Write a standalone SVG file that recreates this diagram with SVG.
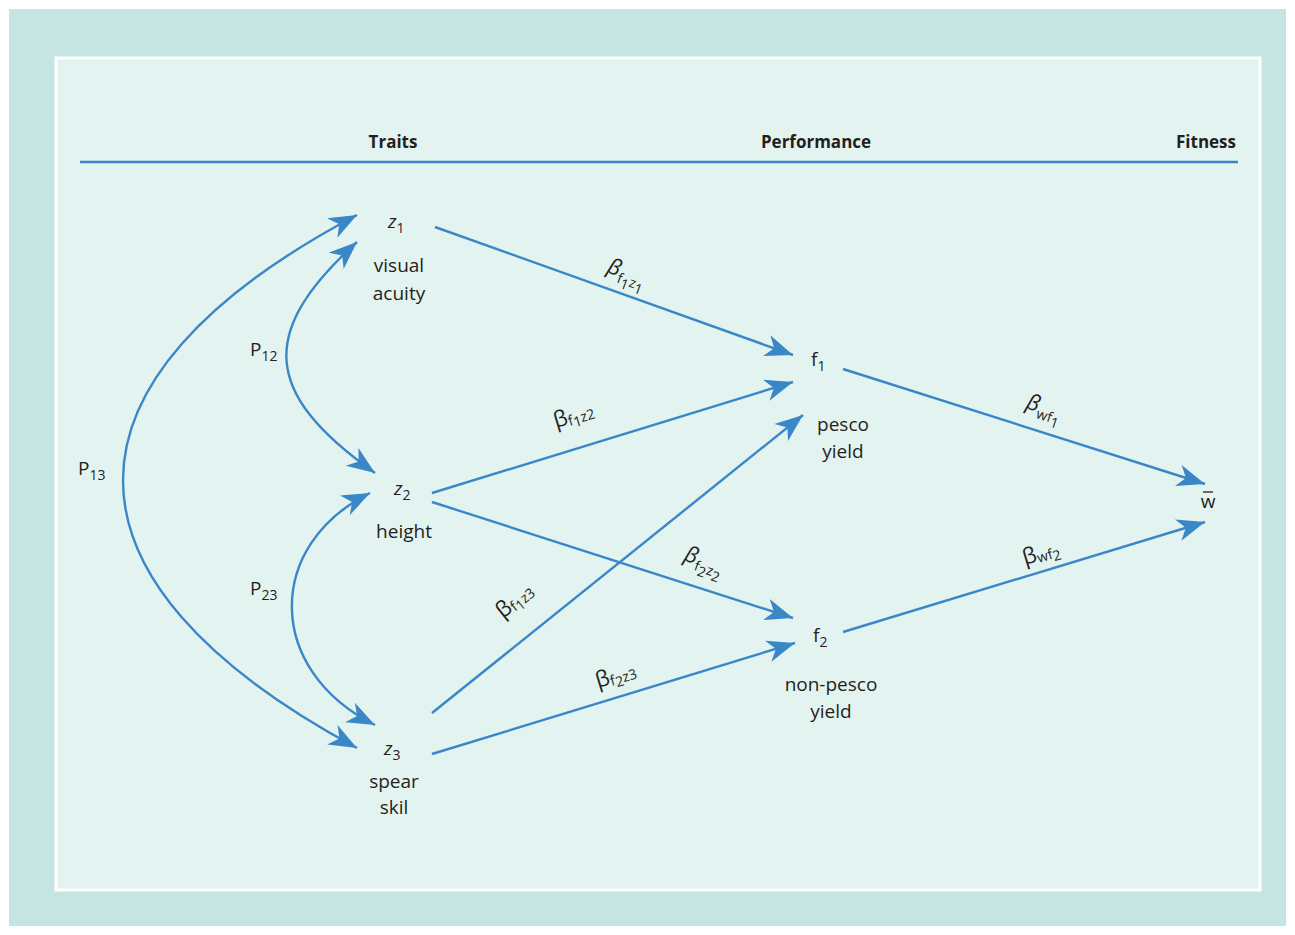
<svg xmlns="http://www.w3.org/2000/svg" width="1295" height="935" viewBox="0 0 1295 935">
<defs>
<style>
.t{font-family:"Open Sans","Noto Sans","Liberation Sans",sans-serif;font-size:19px;fill:#231f20}
.h{font-weight:bold;font-size:17px}
.s{font-size:14px}
.b{font-size:22px}
.c{fill:none;stroke:#3a87c8;stroke-width:2.4;marker-end:url(#ah)}
.d{marker-start:url(#ah)}
</style>
<marker id="ah" markerUnits="userSpaceOnUse" markerWidth="30" markerHeight="24" refX="28" refY="12" orient="auto-start-reverse" viewBox="0 0 30 24">
<path d="M0,1 L28,12 L0,23 L8,12 Z" fill="#3a87c8"/>
</marker>
</defs>
<rect x="0" y="0" width="1295" height="935" fill="#ffffff"/>
<rect x="9" y="9" width="1277" height="917" fill="#c5e5e3"/>
<rect x="56" y="58" width="1204" height="832" fill="#e3f3f0" stroke="#ffffff" stroke-width="3"/>
<g id="header">
<text class="t h" x="393" y="148" text-anchor="middle">Traits</text>
<text class="t h" x="816" y="148" text-anchor="middle">Performance</text>
<text class="t h" x="1236" y="148" text-anchor="end">Fitness</text>
<line x1="80" y1="162" x2="1238" y2="162" stroke="#3a87c8" stroke-width="2.4"/>
</g>
<g id="connectors">
<line class="c" x1="435" y1="227" x2="793" y2="355"/>
<line class="c" x1="432" y1="493" x2="793" y2="382"/>
<line class="c" x1="432" y1="502" x2="793" y2="618"/>
<line class="c" x1="432" y1="713" x2="803" y2="415"/>
<line class="c" x1="432" y1="754" x2="795" y2="643"/>
<line class="c" x1="843" y1="369" x2="1205" y2="484"/>
<line class="c" x1="843" y1="632" x2="1205" y2="522"/>
<path class="c d" d="M357,215 C45,380 45,580 357,748"/>
<path class="c d" d="M357,242 C260,330 260,392 375,473"/>
<path class="c d" d="M370,493 C265,545 265,670 375,725"/>
</g>
<g id="labels">
<text class="t" x="250" y="356">P<tspan class="s" dy="5">12</tspan></text>
<text class="t" x="78" y="475">P<tspan class="s" dy="5">13</tspan></text>
<text class="t" x="250" y="595">P<tspan class="s" dy="5">23</tspan></text>
<text class="t b" transform="translate(606,272) rotate(20)"><tspan font-style="italic">β</tspan><tspan class="s" dy="6">f</tspan><tspan class="s" font-size="11" dy="4">1</tspan><tspan class="s" dy="-4">z</tspan><tspan class="s" font-size="11" dy="4">1</tspan></text>
<text class="t b" transform="translate(556,428) rotate(-17)">β<tspan class="s" dy="2">f</tspan><tspan class="s" font-size="11" dy="3">1</tspan><tspan class="s" dy="-3">z2</tspan></text>
<text class="t b" transform="translate(683,560) rotate(19)"><tspan font-style="italic">β</tspan><tspan class="s" dy="6">f</tspan><tspan class="s" font-size="11" dy="4">2</tspan><tspan class="s" dy="-4">z</tspan><tspan class="s" font-size="11" dy="4">2</tspan></text>
<text class="t b" transform="translate(503,619) rotate(-39)">β<tspan class="s" dy="2">f</tspan><tspan class="s" font-size="11" dy="3">1</tspan><tspan class="s" dy="-3">z3</tspan></text>
<text class="t b" transform="translate(598,688) rotate(-17)">β<tspan class="s" dy="2">f</tspan><tspan class="s" font-size="11" dy="3">2</tspan><tspan class="s" dy="-3">z3</tspan></text>
<text class="t b" transform="translate(1025,408) rotate(18)"><tspan font-style="italic">β</tspan><tspan class="s" dy="6">wf</tspan><tspan class="s" font-size="11" dy="4">1</tspan></text>
<text class="t b" transform="translate(1025,565) rotate(-17)">β<tspan class="s" dy="2">wf</tspan><tspan class="s" font-size="11" dy="3">2</tspan></text>
</g>
<g id="z1">
<text class="t" x="388" y="228" font-style="italic">z<tspan class="s" font-style="normal" dy="5">1</tspan></text>
<text class="t" x="399" y="272" text-anchor="middle">visual</text>
<text class="t" x="399" y="300" text-anchor="middle">acuity</text>
</g>
<g id="z2">
<text class="t" x="394" y="495" font-style="italic">z<tspan class="s" font-style="normal" dy="5">2</tspan></text>
<text class="t" x="404" y="538" text-anchor="middle">height</text>
</g>
<g id="z3">
<text class="t" x="384" y="755" font-style="italic">z<tspan class="s" font-style="normal" dy="5">3</tspan></text>
<text class="t" x="394" y="788" text-anchor="middle">spear</text>
<text class="t" x="394" y="814" text-anchor="middle">skil</text>
</g>
<g id="f1">
<text class="t" x="811" y="366">f<tspan class="s" dy="5">1</tspan></text>
<text class="t" x="843" y="431" text-anchor="middle">pesco</text>
<text class="t" x="843" y="458" text-anchor="middle">yield</text>
</g>
<g id="f2">
<text class="t" x="813" y="642">f<tspan class="s" dy="5">2</tspan></text>
<text class="t" x="831" y="691" text-anchor="middle">non-pesco</text>
<text class="t" x="831" y="718" text-anchor="middle">yield</text>
</g>
<g id="w">
<text class="t" x="1208" y="508" text-anchor="middle">w</text>
<line x1="1203" y1="492" x2="1213" y2="492" stroke="#231f20" stroke-width="1.3"/>
</g>
</svg>
